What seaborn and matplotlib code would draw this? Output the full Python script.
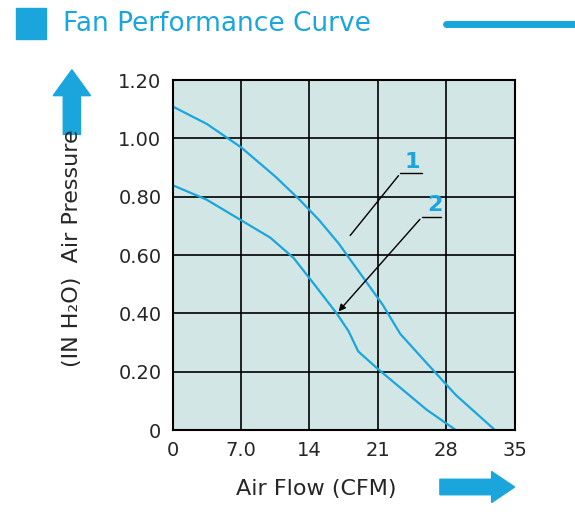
import numpy as np
import pandas as pd
import matplotlib.pyplot as plt
from matplotlib.patches import FancyArrow, Rectangle
from matplotlib.lines import Line2D
import seaborn as sns

# curve data
flow_1 = [0, 3.5, 7.0, 10.5, 13.0, 15.0, 17.0, 18.5, 20.0, 21.5, 23.3, 26.0, 29.0, 33.0]
press_1 = [1.11, 1.05, 0.97, 0.87, 0.79, 0.72, 0.64, 0.57, 0.50, 0.43, 0.33, 0.23, 0.12, 0.0]
flow_2 = [0, 3.5, 7.0, 10.0, 12.4, 14.5, 16.8, 18.0, 19.0, 21.0, 23.5, 26.0, 29.0]
press_2 = [0.84, 0.79, 0.72, 0.66, 0.59, 0.50, 0.40, 0.34, 0.27, 0.21, 0.14, 0.07, 0.0]
x_ticks = [0, 7.0, 14, 21, 28, 35]
x_labels = ["0", "7.0", "14", "21", "28", "35"]
y_ticks = [0, 0.20, 0.40, 0.60, 0.80, 1.00, 1.20]
y_labels = ["0", "0.20", "0.40", "0.60", "0.80", "1.00", "1.20"]

df = pd.concat([
    pd.DataFrame({"flow": flow_1, "pressure": press_1, "curve": "1"}),
    pd.DataFrame({"flow": flow_2, "pressure": press_2, "curve": "2"}),
])

sns.set_style("white")
plt.rcParams['font.family'] = ['DejaVu Sans']
blue = "#1aa6dc"

fig = plt.figure(figsize=(5.75, 5.17), dpi=100)
ax = fig.add_axes([0.30, 0.168, 0.595, 0.677])
ax.set_facecolor("#d3e6e6")
sns.lineplot(data=df, x="flow", y="pressure", hue="curve", palette=[blue, blue],
             legend=False, linewidth=1.6, ax=ax, sort=False)
ax.set_xlim(0, 35)
ax.set_ylim(0, 1.2)
ax.set_xticks(x_ticks)
ax.set_xticklabels(x_labels, fontsize=14)
ax.set_yticks(y_ticks)
ax.set_yticklabels(y_labels, fontsize=14)
ax.grid(True, color="black", linewidth=1.2)
for s in ax.spines.values():
    s.set_color("black")
    s.set_linewidth(1.5)
ax.tick_params(length=0, pad=8)
ax.set_xlabel("")
ax.set_ylabel("")

# annotations
ax.plot([25.5, 23.3], [0.88, 0.88], color="black", lw=1)
ax.annotate("", xy=(18.0, 0.66), xytext=(23.3, 0.88),
            arrowprops=dict(arrowstyle="-", color="black", lw=1))
ax.text(24.5, 0.90, "1", color=blue, fontsize=16, fontweight="bold", ha="center")
ax.plot([27.5, 25.5], [0.73, 0.73], color="black", lw=1)
ax.annotate("", xy=(16.8, 0.40), xytext=(25.5, 0.73),
            arrowprops=dict(arrowstyle="-|>", color="black", lw=1))
ax.text(26.8, 0.75, "2", color=blue, fontsize=16, fontweight="bold", ha="center")

# header
fig.patches.append(Rectangle((0.028, 0.925), 0.052, 0.06, transform=fig.transFigure,
                             color=blue))
fig.text(0.11, 0.953, "Fan Performance Curve", color=blue, fontsize=19, va="center")
fig.add_artist(Line2D([0.775, 1.0], [0.953, 0.953], color=blue, lw=5))

# axis labels
fig.text(0.41, 0.055, "Air Flow (CFM)", fontsize=16, va="center")
fig.patches.append(FancyArrow(0.765, 0.058, 0.09, 0, width=0.03, head_width=0.06,
                              head_length=0.04, transform=fig.transFigure, color=blue))
fig.text(0.125, 0.52, "(IN H\u2082O)  Air Pressure", fontsize=16, rotation=90,
         ha="center", va="center")
fig.patches.append(FancyArrow(0.125, 0.74, 0, 0.075, width=0.03, head_width=0.065,
                              head_length=0.05, transform=fig.transFigure, color=blue))

fig.savefig("out.png", dpi=100)
